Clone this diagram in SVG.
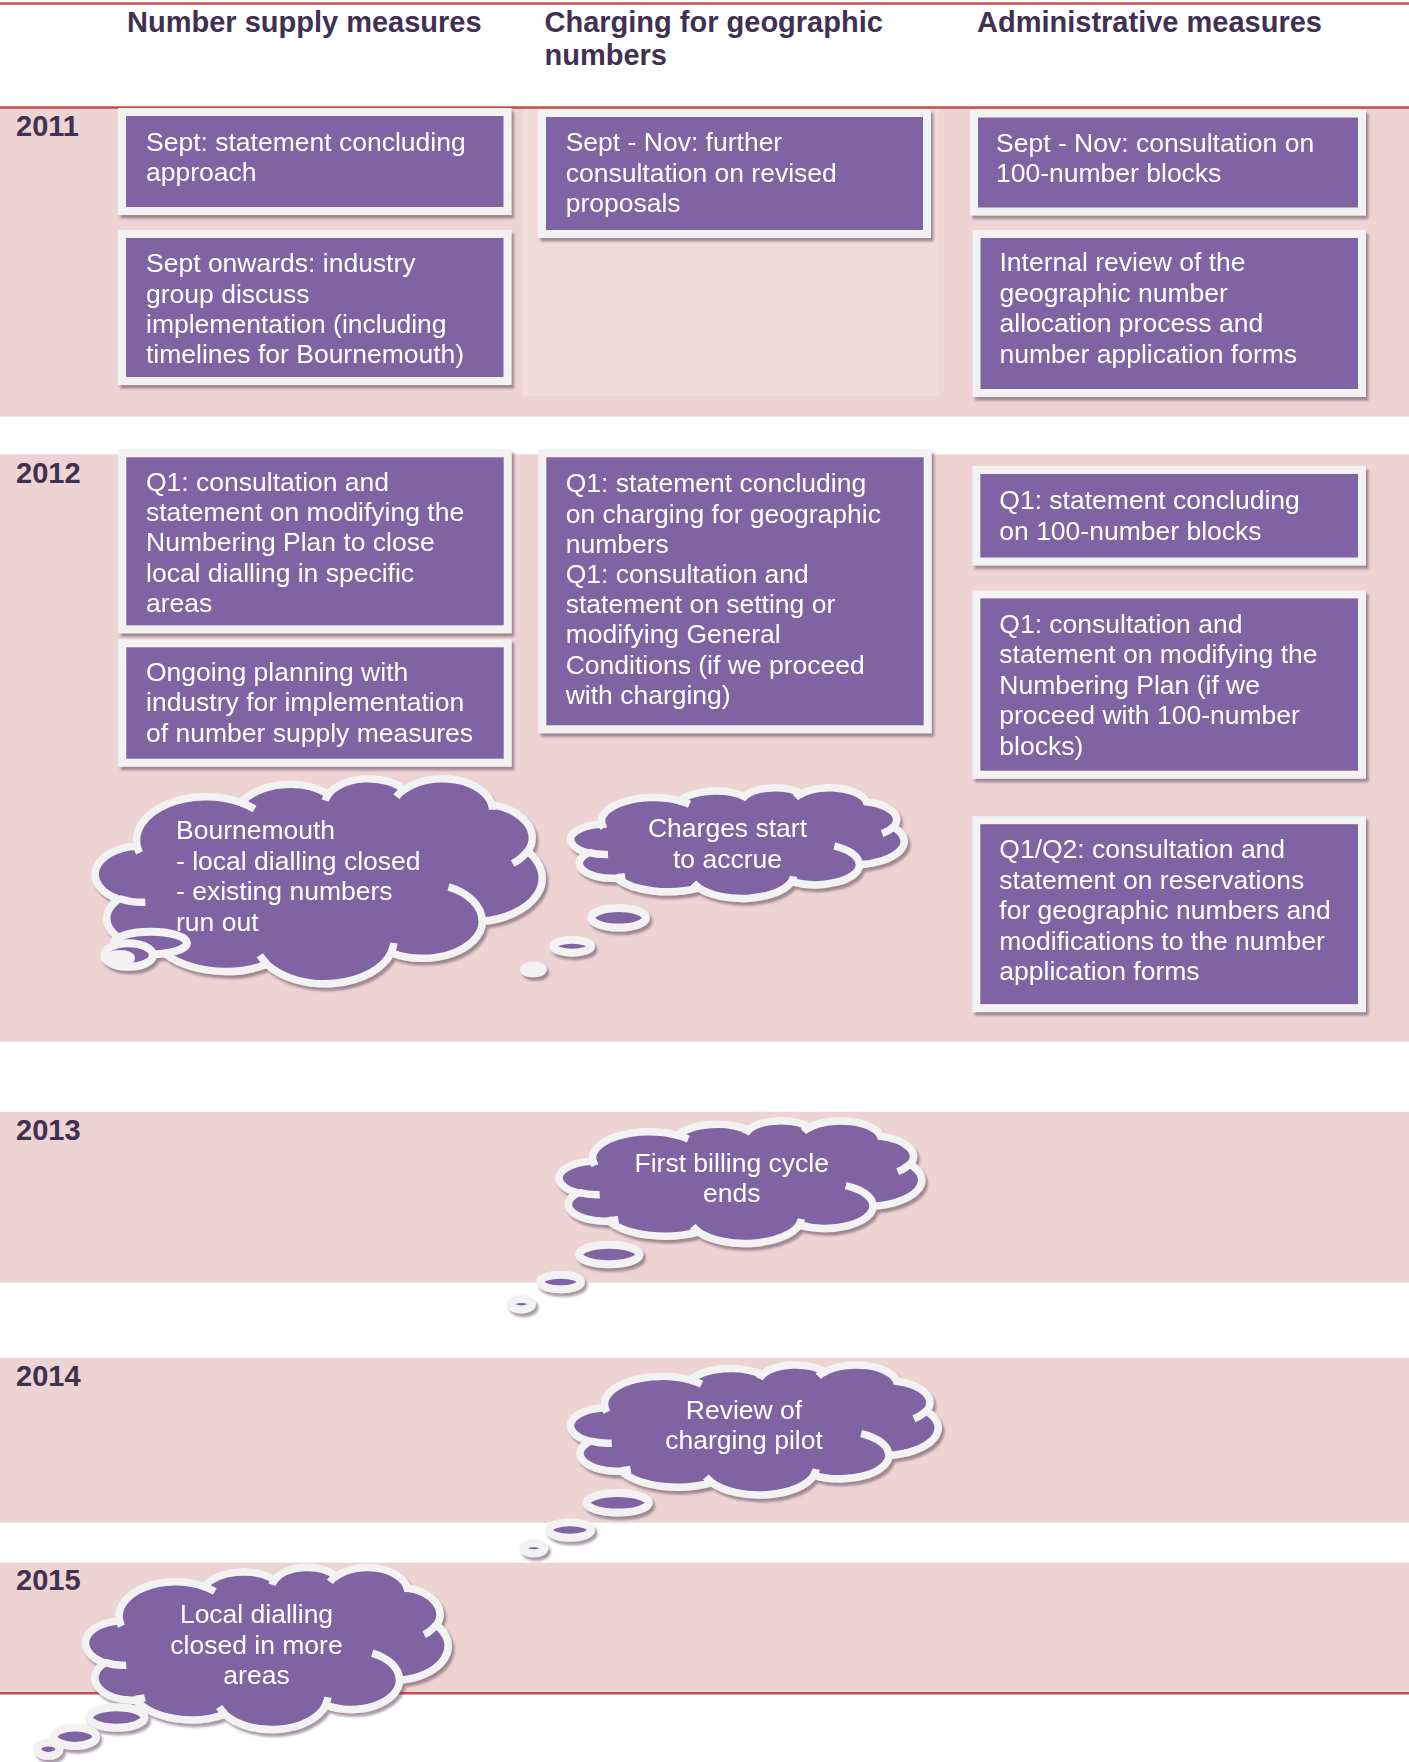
<svg xmlns="http://www.w3.org/2000/svg" xmlns:xlink="http://www.w3.org/1999/xlink" width="1409" height="1762" viewBox="0 0 1409 1762">
<style>
.band{fill:#EED3D3}
.bandlt{fill:#F1DCDB}
.red{stroke:#C0504D;stroke-width:2.5;fill:none}
.hdr{font-family:"Liberation Sans",Arial,sans-serif;font-weight:bold;font-size:29px;fill:#3F3151}
.box{fill:#8064A2;stroke:#F2F2F2;stroke-width:8}
.txt{font-family:"Liberation Sans",Arial,sans-serif;font-size:26.5px;fill:#FFFFFF}
.mid{text-anchor:middle}
.cloud{fill:#8064A2;stroke:#F2F2F2;stroke-width:7.5}
.inner{fill:none;stroke:#F2F2F2;stroke-width:7.5}
.bub{fill:#8064A2;stroke:#F2F2F2;stroke-width:8}
</style>
<defs>
<filter id="sh" x="-10%" y="-10%" width="130%" height="130%">
<feDropShadow dx="2.5" dy="3.5" stdDeviation="0.8" flood-color="#5E4760" flood-opacity="0.55"/>
</filter>
<path id="cp" vector-effect="non-scaling-stroke" d="M9.03 33.26A15.63 21.27 0 0 1 32.42 12.05A12.35 16.82 0 0 1 51.98 7.95A10.1 13.76 0 0 1 69.06 5.74A11.24 15.27 0 0 1 88.7 12.9A12.35 16.84 0 0 1 96.8 35.78A15.68 21.34 0 0 1 86.59 69.92A13.39 18.21 0 0 1 66.11 85.22A15.63 21.33 0 0 1 38.16 90.89A17.87 24.41 0 0 1 13.45 82.11A10.09 13.7 0 0 1 4.91 59.14A10.06 13.76 0 0 1 9.03 33.26Z"/>
<path id="ip" vector-effect="non-scaling-stroke" d="M10.86 60.6A10.06 13.76 0 0 1 5 58.75M16.04 80.78A10.09 13.7 0 0 1 13.47 81.67M38.14 90.49A15.63 21.33 0 0 1 36.6 86.46M66.73 80.44A15.63 21.33 0 0 1 66.11 84.86M79 53.13A13.39 18.21 0 0 1 86.53 69.61M96.75 35.54A12.35 16.84 0 0 1 93.4 41.74M88.71 12.56A11.24 15.27 0 0 1 88.89 15.49M67.31 9.15A11.24 15.27 0 0 1 69.03 5.42M51.25 10.93A10.1 13.76 0 0 1 52.08 7.71M32.41 12.02A15.63 21.27 0 0 1 35.41 15.14M9.55 36.55A15.63 21.27 0 0 1 9.03 33.26"/>
</defs>
<rect width="1409" height="1762" fill="#FFFFFF"/>
<g id="bands">
<rect class="band" x="0" y="107.5" width="1409" height="309"/>
<rect class="bandlt" x="521.6" y="109" width="417.8" height="286.7"/>
<rect class="band" x="0" y="454.3" width="1409" height="587.4"/>
<rect class="band" x="0" y="1111.7" width="1409" height="171"/>
<rect class="band" x="0" y="1357.7" width="1409" height="165"/>
<rect class="band" x="0" y="1562.7" width="1409" height="130.5"/>
<line class="red" x1="0" y1="3.5" x2="1409" y2="3.5"/>
<line class="red" x1="0" y1="107.5" x2="1409" y2="107.5"/>
<line class="red" x1="0" y1="1693.3" x2="1409" y2="1693.3"/>
</g>
<g id="headers">
<text class="hdr" x="127" y="32.3">Number supply measures</text>
<text class="hdr" x="544.5" y="32.3">Charging for geographic</text>
<text class="hdr" x="544.5" y="65">numbers</text>
<text class="hdr" x="977" y="32.3">Administrative measures</text>
</g>
<g id="years">
<text class="hdr" x="16" y="136">2011</text>
<text class="hdr" x="16" y="482.5">2012</text>
<text class="hdr" x="16" y="1140">2013</text>
<text class="hdr" x="16" y="1385.5">2014</text>
<text class="hdr" x="16" y="1590">2015</text>
</g>
<g id="connectors"></g>
<g id="box-2011-supply-1" filter="url(#sh)">
<rect class="box" x="122" y="112" width="385.5" height="99"/>
<text class="txt"><tspan x="146" y="150.7">Sept: statement concluding</tspan><tspan x="146" y="181">approach</tspan></text>
</g>
<g id="box-2011-supply-2" filter="url(#sh)">
<rect class="box" x="122" y="234" width="385.5" height="147"/>
<text class="txt"><tspan x="146" y="272">Sept onwards: industry</tspan><tspan x="146" y="302.5">group discuss</tspan><tspan x="146" y="333">implementation (including</tspan><tspan x="146" y="363.3">timelines for Bournemouth)</tspan></text>
</g>
<g id="box-2011-charging" filter="url(#sh)">
<rect class="box" x="542" y="113" width="385" height="121"/>
<text class="txt"><tspan x="565.7" y="150.7">Sept - Nov: further</tspan><tspan x="565.7" y="181.7">consultation on revised</tspan><tspan x="565.7" y="211.7">proposals</tspan></text>
</g>
<g id="box-2011-admin-1" filter="url(#sh)">
<rect class="box" x="974" y="113.5" width="388" height="98"/>
<text class="txt"><tspan x="996" y="151.7">Sept - Nov: consultation on</tspan><tspan x="996" y="181.7">100-number blocks</tspan></text>
</g>
<g id="box-2011-admin-2" filter="url(#sh)">
<rect class="box" x="976.5" y="234" width="385.5" height="159"/>
<text class="txt"><tspan x="999.5" y="271">Internal review of the</tspan><tspan x="999.5" y="301.5">geographic number</tspan><tspan x="999.5" y="332">allocation process and</tspan><tspan x="999.5" y="362.5">number application forms</tspan></text>
</g>
<g id="box-2012-supply-1" filter="url(#sh)">
<rect class="box" x="122.3" y="453.3" width="385.4" height="176"/>
<text class="txt"><tspan x="146" y="490.7">Q1: consultation and</tspan><tspan x="146" y="521">statement on modifying the</tspan><tspan x="146" y="551.3">Numbering Plan to close</tspan><tspan x="146" y="581.6">local dialling in specific</tspan><tspan x="146" y="611.9">areas</tspan></text>
</g>
<g id="box-2012-supply-2" filter="url(#sh)">
<rect class="box" x="122.3" y="643.3" width="385.4" height="119.4"/>
<text class="txt"><tspan x="146" y="680.7">Ongoing planning with</tspan><tspan x="146" y="711">industry for implementation</tspan><tspan x="146" y="741.5">of number supply measures</tspan></text>
</g>
<g id="box-2012-charging" filter="url(#sh)">
<rect class="box" x="542.3" y="453.3" width="385.4" height="276"/>
<text class="txt"><tspan x="565.7" y="492.3">Q1: statement concluding</tspan><tspan x="565.7" y="522.5">on charging for geographic</tspan><tspan x="565.7" y="552.7">numbers</tspan><tspan x="565.7" y="582.9">Q1: consultation and</tspan><tspan x="565.7" y="613.1">statement on setting or</tspan><tspan x="565.7" y="643.3">modifying General</tspan><tspan x="565.7" y="673.5">Conditions (if we proceed</tspan><tspan x="565.7" y="703.7">with charging)</tspan></text>
</g>
<g id="box-2012-admin-1" filter="url(#sh)">
<rect class="box" x="976.3" y="470" width="385.7" height="91.5"/>
<text class="txt"><tspan x="999.3" y="509">Q1: statement concluding</tspan><tspan x="999.3" y="539.5">on 100-number blocks</tspan></text>
</g>
<g id="box-2012-admin-2" filter="url(#sh)">
<rect class="box" x="976.3" y="594.4" width="385.7" height="180.3"/>
<text class="txt"><tspan x="999.3" y="632.5">Q1: consultation and</tspan><tspan x="999.3" y="663.1">statement on modifying the</tspan><tspan x="999.3" y="693.7">Numbering Plan (if we</tspan><tspan x="999.3" y="724.3">proceed with 100-number</tspan><tspan x="999.3" y="754.9">blocks)</tspan></text>
</g>
<g id="box-2012-admin-3" filter="url(#sh)">
<rect class="box" x="976.3" y="820.2" width="385.7" height="187.9"/>
<text class="txt"><tspan x="999.3" y="858.3">Q1/Q2: consultation and</tspan><tspan x="999.3" y="888.7">statement on reservations</tspan><tspan x="999.3" y="919.1">for geographic numbers and</tspan><tspan x="999.3" y="949.5">modifications to the number</tspan><tspan x="999.3" y="979.9">application forms</tspan></text>
</g>
<g id="cloud-bournemouth" filter="url(#sh)">
<g transform="translate(97 778) scale(4.45 2.05)"><use xlink:href="#cp" class="cloud"/><use xlink:href="#ip" class="inner"/></g>
<ellipse class="bub" cx="150.5" cy="943" rx="36.5" ry="11.3"/>
<ellipse class="bub" cx="128.5" cy="955" rx="24.3" ry="11.8"/>
<ellipse class="bub" cx="120" cy="958" rx="11" ry="4"/>
<text class="txt"><tspan x="176" y="839.3">Bournemouth</tspan><tspan x="176" y="870">- local dialling closed</tspan><tspan x="176" y="900.3">- existing numbers</tspan><tspan x="176" y="930.7">run out</tspan></text>
</g>
<g id="cloud-charges" filter="url(#sh)">
<g transform="translate(572 787.5) scale(3.32 1.105)"><use xlink:href="#cp" class="cloud"/><use xlink:href="#ip" class="inner"/></g>
<ellipse class="bub" cx="618.7" cy="917.8" rx="27.3" ry="9.8"/>
<ellipse class="bub" cx="572.2" cy="946.2" rx="18.8" ry="6.5"/>
<ellipse class="bub" cx="533.3" cy="969.5" rx="9.3" ry="3.8"/>
<text class="txt mid"><tspan x="727.5" y="837.3">Charges start</tspan><tspan x="727.5" y="868.3">to accrue</tspan></text>
</g>
<g id="cloud-billing" filter="url(#sh)">
<g transform="translate(560.5 1120.5) scale(3.61 1.225)"><use xlink:href="#cp" class="cloud"/><use xlink:href="#ip" class="inner"/></g>
<ellipse class="bub" cx="609.2" cy="1254.5" rx="30.2" ry="9.8"/>
<ellipse class="bub" cx="560.5" cy="1282" rx="20.5" ry="7.3"/>
<ellipse class="bub" cx="521.3" cy="1304.2" rx="10.7" ry="5.2"/>
<text class="txt mid"><tspan x="731.7" y="1171.7">First billing cycle</tspan><tspan x="731.7" y="1201.7">ends</tspan></text>
</g>
<g id="cloud-review" filter="url(#sh)">
<g transform="translate(572 1364.5) scale(3.66 1.3)"><use xlink:href="#cp" class="cloud"/><use xlink:href="#ip" class="inner"/></g>
<ellipse class="bub" cx="617.7" cy="1502.8" rx="31" ry="9.8"/>
<ellipse class="bub" cx="570" cy="1530" rx="21" ry="7.7"/>
<ellipse class="bub" cx="533.7" cy="1548.3" rx="10.7" ry="5"/>
<text class="txt mid"><tspan x="744" y="1419">Review of</tspan><tspan x="744" y="1449.3">charging pilot</tspan></text>
</g>
<g id="cloud-local" filter="url(#sh)">
<g transform="translate(87 1567) scale(3.61 1.62)"><use xlink:href="#cp" class="cloud"/><use xlink:href="#ip" class="inner"/></g>
<ellipse class="bub" cx="116.7" cy="1717.5" rx="27.7" ry="10.2"/>
<ellipse class="bub" cx="75" cy="1736.7" rx="21" ry="9.3"/>
<ellipse class="bub" cx="48.3" cy="1749.2" rx="11" ry="6.8"/>
<text class="txt mid"><tspan x="256.5" y="1623.3">Local dialling</tspan><tspan x="256.5" y="1654.3">closed in more</tspan><tspan x="256.5" y="1684.3">areas</tspan></text>
</g>
</svg>
